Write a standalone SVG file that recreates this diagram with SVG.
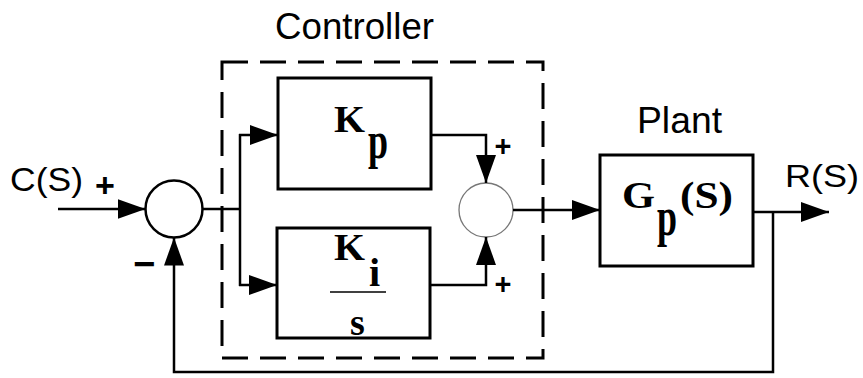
<svg xmlns="http://www.w3.org/2000/svg" width="863" height="378" viewBox="0 0 863 378">
<style>
  .box{fill:none;stroke:#000;stroke-width:3}
  .ln{fill:none;stroke:#000;stroke-width:2.5}
  .sans{font-family:"Liberation Sans",Arial,sans-serif;fill:#000}
  .ser{font-family:"Liberation Serif","Times New Roman",serif;font-weight:bold;fill:#000}
  .sign{font-family:"Liberation Sans",Arial,sans-serif;font-weight:bold;fill:#000;text-anchor:middle}
</style>
<defs>
  <marker id="arr" markerUnits="userSpaceOnUse" markerWidth="30" markerHeight="20" refX="28" refY="10" orient="auto">
    <path d="M0,0 L28,10 L0,20 z" fill="#000"/>
  </marker>
</defs>
<rect width="863" height="378" fill="#fff"/>

<g id="controller">
  <rect x="222" y="62" width="321" height="296" fill="none" stroke="#000" stroke-width="3" stroke-dasharray="26 12"/>
  <text class="sans" x="275" y="39" font-size="36" textLength="159" lengthAdjust="spacingAndGlyphs">Controller</text>
</g>

<g id="sum1">
  <circle cx="174" cy="209" r="28.5" fill="none" stroke="#000" stroke-width="2.5"/>
  <text class="sign" x="105" y="197" font-size="34">+</text>
  <text class="sign" x="144" y="277" font-size="38">−</text>
</g>

<g id="kp">
  <rect class="box" x="278" y="78" width="153" height="111"/>
  <text class="ser" x="334" y="132" font-size="38" textLength="31" lengthAdjust="spacingAndGlyphs">K</text>
  <text class="ser" font-size="36" transform="translate(368,158) scale(1,1.45)">p</text>
</g>

<g id="ki">
  <rect class="box" x="277" y="228" width="153" height="110"/>
  <text class="ser" x="334" y="260" font-size="38" textLength="31" lengthAdjust="spacingAndGlyphs">K</text>
  <text class="ser" x="369" y="286" font-size="40">i</text>
  <line x1="330" y1="292" x2="386" y2="292" stroke="#000" stroke-width="1.5"/>
  <text class="ser" x="350" y="335" font-size="38">s</text>
</g>

<g id="sum2">
  <circle cx="486" cy="210" r="27" fill="none" stroke="#777" stroke-width="1.3"/>
  <text class="sign" x="503" y="156" font-size="29">+</text>
  <text class="sign" x="503" y="294" font-size="29">+</text>
</g>

<g id="plant">
  <rect class="box" x="600" y="155" width="153" height="111"/>
  <text class="sans" x="637" y="133" font-size="36" textLength="85" lengthAdjust="spacingAndGlyphs">Plant</text>
  <text class="ser" x="622" y="208" font-size="38" textLength="33" lengthAdjust="spacingAndGlyphs">G</text>
  <text class="ser" font-size="36" transform="translate(657,235) scale(1,1.5)">p</text>
  <text class="ser" x="680" y="208" font-size="38" textLength="53" lengthAdjust="spacingAndGlyphs">(S)</text>
</g>

<g id="labels">
  <text class="sans" x="10" y="191" font-size="33" textLength="73" lengthAdjust="spacingAndGlyphs">C(S)</text>
  <text class="sans" x="785" y="187" font-size="32" textLength="74" lengthAdjust="spacingAndGlyphs">R(S)</text>
</g>

<g id="connectors">
  <line class="ln" x1="58" y1="209" x2="145.5" y2="209" marker-end="url(#arr)"/>
  <polyline class="ln" points="202.5,209 240,209"/>
  <line class="ln" x1="240" y1="134" x2="240" y2="286"/>
  <line class="ln" x1="239" y1="135" x2="278" y2="135" marker-end="url(#arr)"/>
  <line class="ln" x1="239" y1="285" x2="277" y2="285" marker-end="url(#arr)"/>
  <polyline class="ln" points="431,135 486,135 486,183" marker-end="url(#arr)"/>
  <polyline class="ln" points="430,285 486,285 486,237" marker-end="url(#arr)"/>
  <line class="ln" x1="513" y1="210" x2="600" y2="210" marker-end="url(#arr)"/>
  <line class="ln" x1="753" y1="212" x2="829" y2="212" marker-end="url(#arr)"/>
  <polyline class="ln" points="773,212 773,372 174,372 174,237.5" marker-end="url(#arr)"/>
</g>
</svg>
